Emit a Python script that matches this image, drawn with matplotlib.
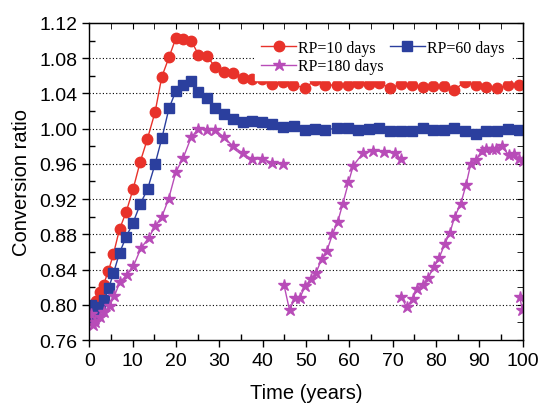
import numpy as np
import matplotlib
matplotlib.use("Agg")
import matplotlib.pyplot as plt
from matplotlib.ticker import MultipleLocator

# RP = 10 days
t10 = [0.3, 0.6, 1.45, 2.4, 3.3, 4.4, 5.6, 7.0, 8.5, 10.1, 11.75, 13.4, 15.2,
       16.75, 18.4, 20.0, 21.6, 23.5, 25.2, 27.1, 29.0, 31.1, 33.2, 35.4, 37.6,
       39.9, 42.2, 44.6, 47.1, 49.7, 52.1, 54.4, 57.1, 59.6, 62.1, 64.5, 66.9,
       69.4, 72.0, 74.4, 76.9, 79.3, 81.8, 84.2, 86.6, 89.2, 91.6, 94.1, 96.6, 99.1]
r10 = [0.795, 0.800, 0.804, 0.815, 0.823, 0.838, 0.858, 0.886, 0.905, 0.931,
       0.962, 0.988, 1.019, 1.059, 1.081, 1.103, 1.102, 1.100, 1.084, 1.083,
       1.070, 1.064, 1.063, 1.057, 1.056, 1.056, 1.051, 1.053, 1.050, 1.046,
       1.055, 1.050, 1.049, 1.049, 1.052, 1.051, 1.052, 1.046, 1.051, 1.050,
       1.047, 1.048, 1.048, 1.044, 1.053, 1.049, 1.047, 1.046, 1.049, 1.049]

# RP = 60 days
t60 = [0.3, 0.85, 1.3, 2.4, 3.5, 4.5, 5.6, 7.0, 8.5, 10.1, 11.75, 13.5, 15.2,
       16.75, 18.4, 20.0, 21.7, 23.5, 25.2, 27.1, 29.0, 31.1, 33.2, 35.4, 37.6,
       39.9, 42.2, 44.6, 47.2, 49.7, 52.1, 54.4, 57.1, 59.6, 62.1, 64.5, 66.9,
       69.4, 72.0, 74.4, 76.9, 79.3, 81.8, 84.2, 86.6, 89.2, 91.6, 94.1, 96.6, 99.1]
r60 = [0.800, 0.784, 0.792, 0.797, 0.806, 0.819, 0.836, 0.859, 0.877, 0.893,
       0.914, 0.932, 0.960, 0.989, 1.023, 1.043, 1.050, 1.054, 1.042, 1.035,
       1.024, 1.017, 1.011, 1.008, 1.009, 1.007, 1.005, 1.002, 1.003, 0.999,
       1.000, 0.998, 1.001, 1.001, 0.998, 1.000, 1.001, 0.997, 0.997, 0.997,
       1.001, 0.998, 0.999, 1.001, 0.997, 0.994, 0.997, 0.997, 1.000, 0.999]

# RP = 180 days (separate pieces split by NaN)
t180 = [0.3, 0.85, 1.4, 2.4, 3.5, 4.7, 5.8, 7.1, 8.7, 10.2, 11.9, 13.7, 15.2,
        16.75, 18.3, 20.0, 21.7, 23.5, 25.2, 27.1, 29.0, 31.1, 33.2, 35.4, 37.6,
        39.9, 42.2, 44.6, np.nan,
        44.9, 46.2, 47.5, 48.6, 49.8, 51.1, 52.3, 53.6, 54.8, 56.1, 57.3, 58.5,
        59.8, 60.9, 63.1, 65.4, 68.0, 70.5, 71.9, np.nan,
        72.0, 73.2, 74.6, 75.6, 77.0, 78.2, 79.5, 80.7, 82.0, 83.2, 84.3, 85.7,
        86.9, 88.0, 89.3, 90.5, 91.6, 92.8, 93.9, 95.1, 96.8, 98.0, 99.1, 100.0,
        np.nan, 99.3, 99.9]
r180 = [0.790, 0.777, 0.780, 0.786, 0.792, 0.799, 0.810, 0.826, 0.834, 0.844,
        0.864, 0.876, 0.889, 0.900, 0.920, 0.951, 0.967, 0.990, 1.000, 0.999,
        0.999, 0.990, 0.980, 0.972, 0.965, 0.966, 0.961, 0.960, np.nan,
        0.823, 0.794, 0.808, 0.808, 0.821, 0.829, 0.836, 0.852, 0.861, 0.880,
        0.894, 0.915, 0.939, 0.958, 0.972, 0.975, 0.974, 0.972, 0.965, np.nan,
        0.809, 0.797, 0.807, 0.818, 0.823, 0.831, 0.843, 0.853, 0.869, 0.882,
        0.900, 0.915, 0.936, 0.960, 0.964, 0.975, 0.977, 0.977, 0.977, 0.980,
        0.970, 0.971, 0.965, 0.963, np.nan, 0.809, 0.794]

red = "#e8322a"
blue = "#2b3f9e"
mag = "#b84cb8"

plt.rcParams["font.family"] = "Liberation Sans"

fig = plt.figure(figsize=(5.44, 4.06), dpi=100)
ax = fig.add_axes([0.164, 0.160, 0.797, 0.781])

l10, = ax.plot(t10, r10, "-o", color=red, ms=7.5, lw=1.0, label="RP=10 days")
l60, = ax.plot(t60, r60, "-s", color=blue, ms=6.5, lw=1.0, label="RP=60 days")
l180, = ax.plot(t180, r180, "-*", color=mag, ms=9, lw=1.0, label="RP=180 days")

ax.set_xlim(0, 100)
ax.set_ylim(0.76, 1.12)
ax.xaxis.set_major_locator(MultipleLocator(10))
ax.xaxis.set_minor_locator(MultipleLocator(5))
ax.yaxis.set_major_locator(MultipleLocator(0.04))
ax.yaxis.set_minor_locator(MultipleLocator(0.02))
ax.yaxis.set_major_formatter(matplotlib.ticker.FormatStrFormatter("%.2f"))
ax.tick_params(which="major", direction="out", length=5, width=1, labelsize=14)
ax.tick_params(which="minor", direction="in", length=4, width=1)

for yv in np.arange(0.80, 1.09, 0.04):
    ax.axhline(yv, color="black", ls=(0, (1, 2)), lw=0.8, zorder=0)

top = ax.secondary_xaxis("top")
top.xaxis.set_major_locator(MultipleLocator(10))
top.xaxis.set_minor_locator(MultipleLocator(5))
top.tick_params(which="both", direction="in", length=4, labeltop=False)
right = ax.secondary_yaxis("right")
right.yaxis.set_major_locator(MultipleLocator(0.04))
right.yaxis.set_minor_locator(MultipleLocator(0.02))
right.tick_params(which="both", direction="in", length=4, labelright=False)

for s in ax.spines.values():
    s.set_linewidth(1.0)

ax.set_xlabel("Time (years)", fontsize=14.5, labelpad=10)
ax.set_ylabel("Conversion ratio", fontsize=14.5, labelpad=6)

# column-major fill: first column RP=10 / RP=180, second column RP=60
leg = ax.legend([l10, l180, l60], ["RP=10 days", "RP=180 days", "RP=60 days"],
                loc="upper left", ncol=2, bbox_to_anchor=(0.365, 0.99),
                prop={"family": "Liberation Serif", "size": 11.5},
                handlelength=2.2, handletextpad=0.1, columnspacing=0.4,
                labelspacing=0.15, borderpad=0.35, framealpha=1,
                fancybox=False, edgecolor="white")

fig.savefig("out.png", dpi=100)
